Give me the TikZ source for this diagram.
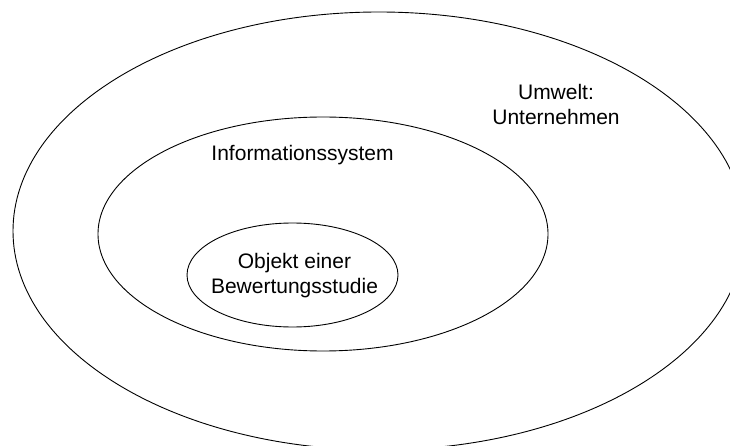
\documentclass[tikz,border=0pt]{standalone}
\usepackage{fontspec}
\setmainfont{Liberation Sans}
\usetikzlibrary{shapes.geometric}
\begin{document}
\begin{tikzpicture}[
                x=1pt, y=-1pt,
                ring/.style={
                    draw=black,
                    ellipse,
                    inner sep=0pt,
                    line width=0.9pt
                },
                lbl/.style={
                    align=center,
                    inner sep=0pt,
                    font=\fontsize{21}{25}\selectfont
                }
            ]
                \useasboundingbox (0,0) rectangle (730,446);

                \node[ring, minimum width=732pt, minimum height=438pt] (umwelt) at (379,231) {};
                \node[ring, minimum width=450pt, minimum height=234pt] (infosys) at (323,234) {};
                \node[ring, minimum width=211pt, minimum height=104pt] (objekt) at (292.5,275) {};

                \node[lbl] (objektText) at (294.5,276) {Objekt einer\\Bewertungsstudie};
                \node[lbl] (umweltText) at (556,104.5) {Umwelt:\\Unternehmen};
                \node[lbl] (infosysText) at (302.5,155) {Informationssystem};
        \end{tikzpicture}
\end{document}
